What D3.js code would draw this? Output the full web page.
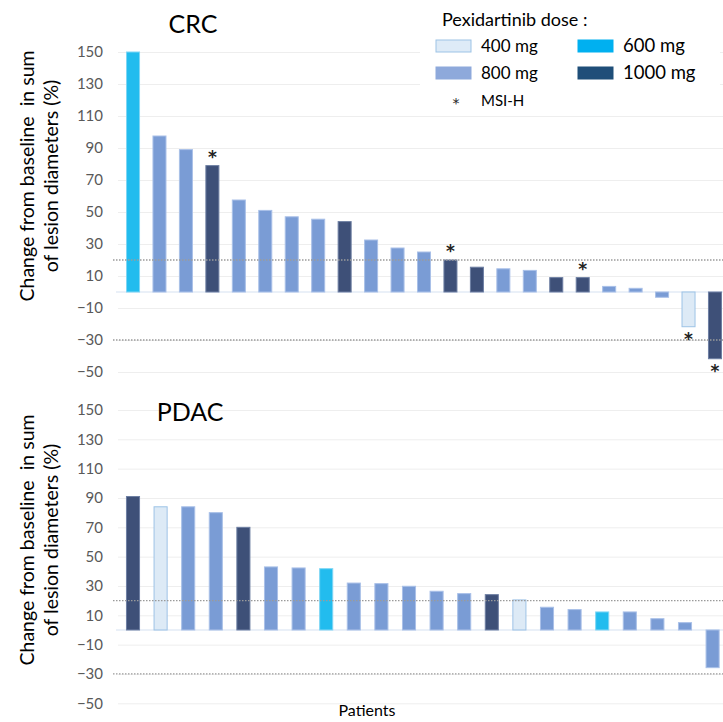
<!DOCTYPE html>
<html><head><meta charset="utf-8">
<script src="https://cdn.jsdelivr.net/npm/d3@7"></script>
<style>body{margin:0;background:#fff;} svg{display:block;font-family:Lato,"Open Sans",sans-serif;}</style>
</head><body><svg id="c" width="723" height="722"></svg>
<script>
const crcValues = [150, 97.5, 89, 79, 57.5, 51, 47, 45.5, 44, 32.5, 27.5, 25, 20, 15.5, 14.5, 13.5, 9, 9, 3.5, 2.3, -3.3, -21.7, -41.7];
const crcDoses  = [600, 800, 800, 1000, 800, 800, 800, 800, 1000, 800, 800, 800, 1000, 1000, 800, 800, 1000, 1000, 800, 800, 800, 400, 1000];
const crcMsi    = [0,0,0,1,0,0,0,0,0,0,0,0,1,0,0,0,0,1,0,0,0,1,1];
const pdacValues = [91, 84, 84, 80, 70, 43, 42.3, 41.8, 32, 31.6, 29.8, 26.4, 24.8, 24.1, 20.5, 15.5, 13.9, 12.3, 12.3, 7.7, 5, -25.7];
const pdacDoses  = [1000, 400, 800, 800, 1000, 800, 800, 600, 800, 800, 800, 800, 800, 1000, 400, 800, 800, 600, 800, 800, 800, 800];
const yTicks = [-50, -30, -10, 10, 30, 50, 70, 90, 110, 130, 150];
const refLines = [20, -30];
const doseLabels = ["400 mg", "600 mg", "800 mg", "1000 mg"];
const doseKeys = [400, 600, 800, 1000];

const barFill = {400: "#DDEAF6", 600: "#22BCEE", 800: "#7A9CD5", 1000: "#3E5078"};
const barStroke = {400: "#9DC3E6", 600: "#7FD6F5", 800: "#A9C0E8", 1000: "#6E7FA3"};
const legFill = {400: "#DEEBF7", 600: "#00B0F0", 800: "#8EA9DB", 1000: "#1F4E79"};
const legStroke = {400: "#9DC3E6", 600: "#00B0F0", 800: "#8EA9DB", 1000: "#1F4E79"};

const svg = d3.select("#c");

function panel(opts) {
  const {values, doses, msi, y0, y1, x0, x1, pad, title, titleX, titleY, labelCY} = opts;
  const y = d3.scaleLinear().domain([-50, 150]).range([y1, y0]);
  const x = d3.scaleBand().domain(d3.range(values.length)).range([x0, x1]).paddingInner(pad).paddingOuter(pad / 2);
  const g = svg.append("g");
  g.append("g").attr("transform", "translate(118,0)")
    .call(d3.axisLeft(y).tickValues(yTicks).tickSize(-(723 - 118)).tickFormat(""))
    .call(s => s.select(".domain").remove())
    .call(s => s.selectAll("line").attr("stroke", "#EEEEEE").attr("stroke-width", 1));
  g.append("g").attr("transform", "translate(118,0)")
    .call(d3.axisLeft(y).tickValues(yTicks).tickSize(0).tickPadding(15))
    .call(s => s.select(".domain").remove())
    .call(s => s.selectAll("text").attr("font-size", 15).attr("fill", "#595959").attr("font-family", "Lato, sans-serif"));
  g.append("line").attr("x1", 116).attr("x2", 723).attr("y1", y(0)).attr("y2", y(0))
    .attr("stroke", "#D6E2F2").attr("stroke-width", 1.2);
  g.selectAll("rect.bar").data(values).join("rect").attr("class", "bar")
    .attr("x", (d, i) => x(i) + 0.5)
    .attr("width", x.bandwidth() - 1)
    .attr("y", d => y(Math.max(0, d)))
    .attr("height", d => Math.abs(y(d) - y(0)))
    .attr("fill", (d, i) => barFill[doses[i]])
    .attr("stroke", (d, i) => barStroke[doses[i]])
    .attr("stroke-width", 1);
  g.selectAll("line.ref").data(refLines).join("line").attr("class", "ref")
    .attr("x1", 113).attr("x2", 723).attr("y1", d => y(d)).attr("y2", d => y(d))
    .attr("stroke", "#9A9A9A").attr("stroke-width", 1.3).attr("stroke-dasharray", "1.5,1.5");
  if (msi) {
    g.selectAll("text.msi").data(values.map((v, i) => ({v, i})).filter(d => msi[d.i])).join("text")
      .attr("class", "msi")
      .attr("x", d => x(d.i) + x.bandwidth() / 2)
      .attr("y", d => d.v >= 0 ? y(d.v) - 3 : y(d.v) + 18)
      .attr("text-anchor", "middle").attr("font-size", 17).attr("font-weight", "bold").attr("fill", "#222")
      .attr("font-family", "DejaVu Sans, sans-serif")
      .text("*");
  }
  g.append("text").attr("x", titleX).attr("y", titleY).attr("text-anchor", "middle")
    .attr("font-size", 25).attr("fill", "#000").attr("font-family", "Lato, sans-serif").text(title);
  const lab = g.append("text").attr("transform", `translate(34,${labelCY}) rotate(-90)`)
    .attr("text-anchor", "middle").attr("font-size", 19.5).attr("fill", "#000").attr("font-family", "Lato, sans-serif");
  lab.append("tspan").attr("x", 0).attr("y", 0).attr("xml:space", "preserve").text("Change from baseline  in sum");
  lab.append("tspan").attr("x", 0).attr("y", 24).text("of lesion diameters (%)");
}

panel({values: crcValues, doses: crcDoses, msi: crcMsi, y0: 52, y1: 372, x0: 119.8, x1: 728.2, pad: 0.47,
       title: "CRC", titleX: 193, titleY: 33, labelCY: 176});
panel({values: pdacValues, doses: pdacDoses, msi: null, y0: 410, y1: 703.3, x0: 119.2, x1: 726.4, pad: 0.49,
       title: "PDAC", titleX: 190, titleY: 421, labelCY: 540});

svg.append("text").attr("x", 367).attr("y", 716).attr("text-anchor", "middle")
  .attr("font-size", 16).attr("fill", "#000").attr("font-family", "Lato, sans-serif").text("Patients");

const leg = svg.append("g").attr("font-family", "Lato, sans-serif");
leg.append("rect").attr("x", 420).attr("y", 6).attr("width", 300).attr("height", 108).attr("fill", "#fff");
leg.append("text").attr("x", 442).attr("y", 26).attr("font-size", 18).attr("fill", "#000").text("Pexidartinib dose :");
const legPos = [[436, 40], [578, 40], [436, 67], [578, 67]];
doseKeys.forEach((k, i) => {
  const [lx, ly] = legPos[i];
  leg.append("rect").attr("x", lx).attr("y", ly).attr("width", 35).attr("height", 12)
    .attr("fill", legFill[k]).attr("stroke", legStroke[k]).attr("stroke-width", 1);
  leg.append("text").attr("x", lx + 45).attr("y", ly + 12).attr("font-size", i % 2 ? 18.5 : 17)
    .attr("fill", "#000").text(doseLabels[i]);
});
leg.append("text").attr("x", 456).attr("y", 108).attr("text-anchor", "middle").attr("font-size", 14)
  .attr("font-family", "DejaVu Sans, sans-serif").attr("fill", "#222").text("*");
leg.append("text").attr("x", 481).attr("y", 106).attr("font-size", 15).attr("fill", "#000").text("MSI-H");
</script></body></html>
